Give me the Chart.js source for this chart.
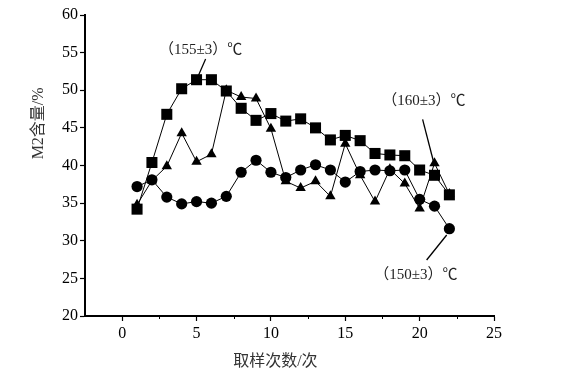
<!DOCTYPE html>
<html>
<head>
<meta charset="utf-8">
<script src="https://cdn.jsdelivr.net/npm/chart.js@4"></script>
<style>
html,body{margin:0;padding:0;background:#fff;}
canvas{display:block;}
</style>
</head>
<body>
<canvas id="c" width="565" height="379"></canvas>
<script>
// ---- data ----
const sampleNo = [1,2,3,4,5,6,7,8,9,10,11,12,13,14,15,16,17,18,19,20,21,22];
const m2At155 = [34.2,40.4,46.8,50.2,51.4,51.4,49.9,47.6,46.0,46.9,45.9,46.2,45.0,43.4,44.0,43.3,41.6,41.4,41.3,39.4,38.7,36.1];
const m2At150 = [37.2,38.1,35.8,34.9,35.2,35.0,35.9,39.1,40.7,39.1,38.4,39.4,40.1,39.4,37.8,39.2,39.4,39.3,39.4,35.5,34.6,31.6];
const m2At160 = [34.8,38.0,39.9,44.3,40.5,41.5,50.0,49.1,48.9,44.9,37.9,37.0,37.9,35.9,42.9,38.7,35.2,39.5,37.6,34.3,40.3,36.2];
const xMajorTicks = [0,5,10,15,20,25];
const xMinorTicks = [2.5,7.5,12.5,17.5,22.5];
const xTitle = '取样次数/次';
const yTitle = 'M2含量/%';
// annotations in data units: label position and leader line
const notes = [
  {text:'（155±3）℃', lx:5.27, ly:55.35, x1:5.61, y1:54.15, x2:5.14, y2:52.03},
  {text:'（160±3）℃', lx:20.29, ly:48.57, x1:20.2, y1:46.14, x2:20.96, y2:40.3},
  {text:'（150±3）℃', lx:19.75, ly:25.45, x1:20.47, y1:27.44, x2:21.82, y2:30.76}
];

const pts = (arr) => sampleNo.map((x,i)=>({x:x, y:arr[i]}));
const serif = "'Liberation Serif', 'Noto Sans CJK SC', serif";

const extras = {
  id:'extras',
  afterDraw(chart){
    const ctx = chart.ctx, xs = chart.scales.x, ys = chart.scales.y, a = chart.chartArea;
    ctx.save();
    // minor ticks on x axis
    ctx.strokeStyle = '#000'; ctx.lineWidth = 1;
    xMinorTicks.forEach(v=>{
      const px = Math.round(xs.getPixelForValue(v)) + 0.5;
      ctx.beginPath(); ctx.moveTo(px, a.bottom); ctx.lineTo(px, a.bottom + 3); ctx.stroke();
    });
    // annotations
    ctx.fillStyle = '#222';
    ctx.font = "15px " + serif;
    ctx.textAlign = 'center'; ctx.textBaseline = 'middle';
    notes.forEach(n=>{
      ctx.beginPath();
      ctx.moveTo(xs.getPixelForValue(n.x1), ys.getPixelForValue(n.y1));
      ctx.lineTo(xs.getPixelForValue(n.x2), ys.getPixelForValue(n.y2));
      ctx.lineWidth = 1.3; ctx.stroke();
      ctx.fillText(n.text, xs.getPixelForValue(n.lx), ys.getPixelForValue(n.ly));
    });
    // axis titles
    ctx.font = "16px " + serif;
    ctx.fillStyle = '#333';
    ctx.fillText(xTitle, xs.getPixelForValue(10.3), a.bottom + 46);
    ctx.save();
    ctx.translate(39, ys.getPixelForValue(45.6));
    ctx.rotate(-Math.PI/2);
    ctx.fillText(yTitle, 0, 0);
    ctx.restore();
    ctx.restore();
  }
};

const lineDs = (data, style, radius) => ({
  data: pts(data),
  borderColor:'#000', borderWidth:1,
  pointStyle: style, pointRadius: radius, pointHoverRadius: radius,
  pointBackgroundColor:'#000', pointBorderColor:'#000', pointBorderWidth:0,
  tension:0, fill:false
});

new Chart(document.getElementById('c'), {
  type:'line',
  data:{
    datasets:[
      lineDs(m2At155, 'rect', 7.8),
      lineDs(m2At150, 'circle', 5.6),
      lineDs(m2At160, 'triangle', 6)
    ]
  },
  options:{
    responsive:false, animation:false, devicePixelRatio:1,
    layout:{padding:{left:0, top:15, right:71, bottom:0}},
    plugins:{legend:{display:false}, tooltip:{enabled:false}},
    scales:{
      x:{
        type:'linear', min:-2.5, max:25,
        afterBuildTicks:(s)=>{ s.ticks = xMajorTicks.map(v=>({value:v})); },
        afterFit:(s)=>{ s.height = 63; },
        ticks:{color:'#000', font:{family:serif, size:16}, padding:3, maxRotation:0},
        grid:{drawOnChartArea:false, drawTicks:true, tickLength:5, tickColor:'#000', tickWidth:1.2},
        border:{display:true, color:'#000', width:2}
      },
      y:{
        min:20, max:60,
        afterFit:(s)=>{ s.width = 85; },
        ticks:{stepSize:5, color:'#000', font:{family:serif, size:16}, padding:2},
        grid:{drawOnChartArea:false, drawTicks:true, tickLength:5, tickColor:'#000', tickWidth:1.2},
        border:{display:true, color:'#000', width:2}
      }
    }
  },
  plugins:[extras]
});
</script>
</body>
</html>
